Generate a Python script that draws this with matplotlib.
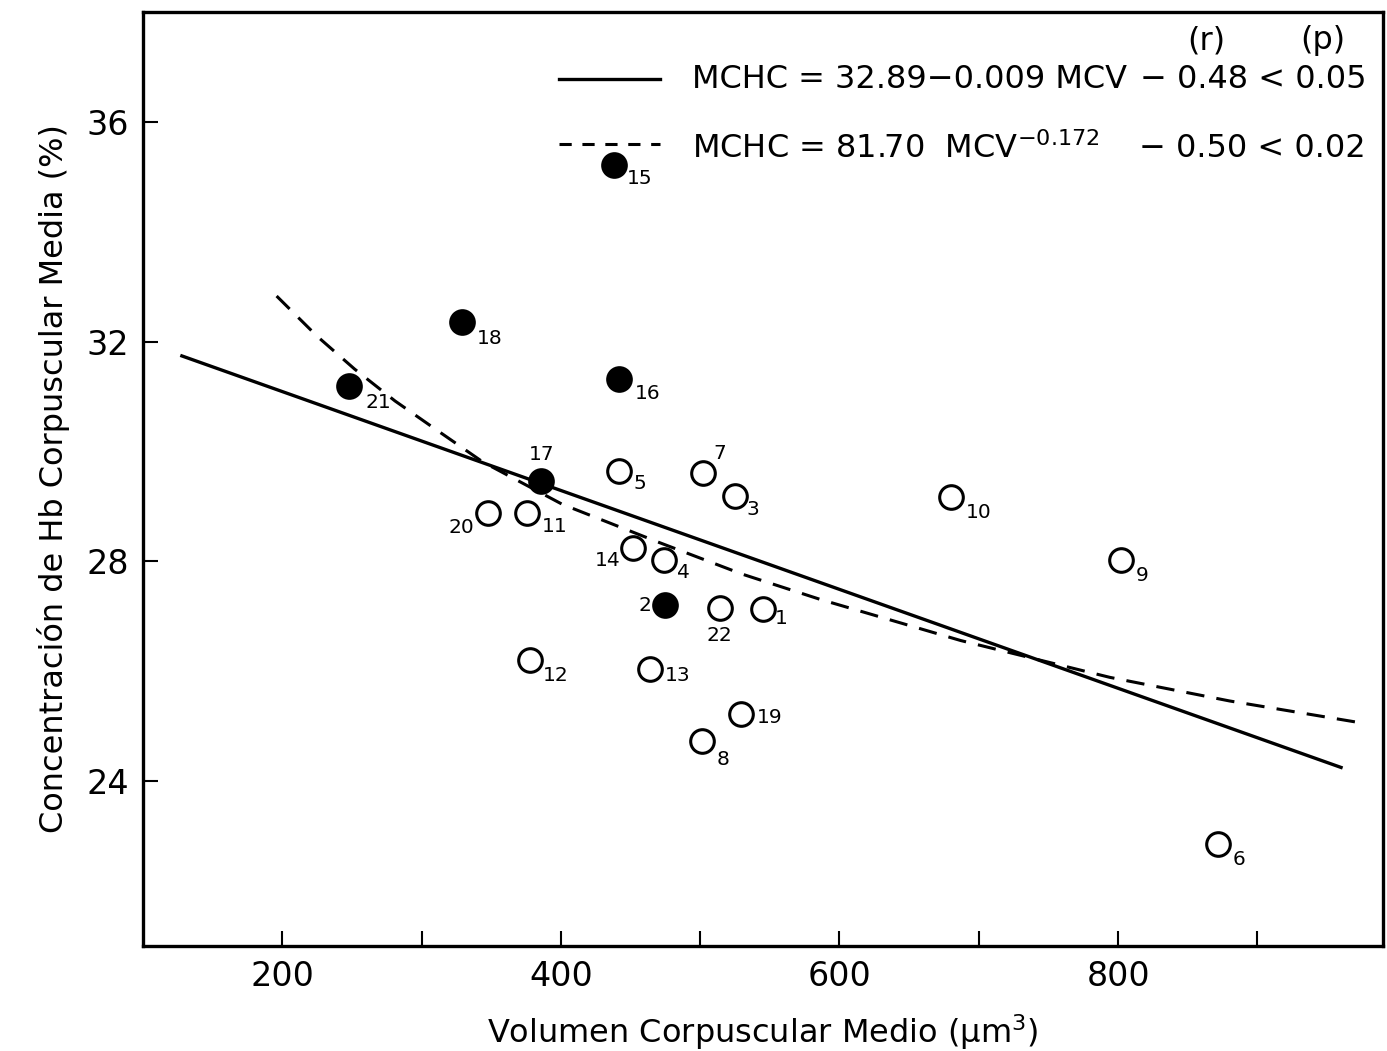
import matplotlib
matplotlib.use("Agg")
import matplotlib.pyplot as plt

# --------------------------------------------------------------------------
# Data
# --------------------------------------------------------------------------
point_ids = [1, 2, 3, 4, 5, 6, 7, 8, 9, 10, 11,
             12, 13, 14, 15, 16, 17, 18, 19, 20, 21, 22]
mcv = [545, 475, 525, 474, 442, 872, 502, 501, 802, 680, 376,
       378, 464, 452, 438, 442, 386, 329, 529, 348, 248, 514]
mchc = [27.13, 27.20, 29.19, 28.02, 29.64, 22.85, 29.61, 24.74, 28.02, 29.17, 28.88,
        26.20, 26.04, 28.24, 35.22, 31.32, 29.46, 32.36, 25.23, 28.88, 31.19, 27.15]
filled_ids = [2, 15, 16, 17, 18, 21]

# linear fit, end points as drawn
lin_x = [128, 960]
lin_y = [31.74, 24.25]

# power fit, points
pow_x = [196, 225, 252, 281, 307, 344, 401, 470, 530, 586, 687, 794, 880, 977]
pow_y = [32.83, 32.10, 31.50, 30.92, 30.46, 29.81, 29.04, 28.35, 27.77, 27.31,
         26.56, 25.89, 25.46, 25.05]

x_ticks = [200, 300, 400, 500, 600, 700, 800, 900]
x_tick_labels = ["200", "", "400", "", "600", "", "800", ""]
y_ticks = [24, 28, 32, 36]

# label offsets in pixels (dx right, dy down)
label_offsets = {
    1: (18, 9), 2: (-20, 0), 3: (18, 13), 4: (20, 12), 5: (21, 12), 6: (21, 15),
    7: (17, -19), 8: (22, 19), 9: (21, 15), 10: (28, 15), 11: (27, 13),
    12: (26, 15), 13: (28, 6), 14: (-26, 12), 15: (26, 14), 16: (28, 15),
    17: (0, -27), 18: (28, 17), 19: (29, 4), 20: (-27, 14), 21: (29, 16), 22: (0, 27),
}

plt.rcParams["font.family"] = "DejaVu Sans"
plt.rcParams["mathtext.fontset"] = "dejavusans"

fig = plt.figure(figsize=(13.87, 10.51), dpi=100)
ax = fig.add_axes([0.103, 0.0999, 0.894, 0.8887])

ax.plot(lin_x, lin_y, color="black", lw=2.4, zorder=2)
ax.plot(pow_x, pow_y, color="black", lw=2.2, dashes=(6, 4), zorder=2)

for pid, x, y in zip(point_ids, mcv, mchc):
    face = "black" if pid in filled_ids else "white"
    ax.plot(x, y, "o", ms=17, mfc=face, mec="black", mew=2.2, zorder=3)
    dx, dy = label_offsets[pid]
    ax.annotate(str(pid), (x, y), xytext=(dx, -dy), textcoords="offset pixels",
                ha="center", va="center", fontsize=14.5, zorder=4)

# legend drawn by hand, like the original
ax.plot([399, 471], [36.78, 36.78], color="black", lw=2.4)
ax.plot([399, 471], [35.60, 35.60], color="black", lw=2.2, dashes=(4, 3.5))
ax.text(863, 37.48, "(r)", ha="center", va="center", fontsize=23)
ax.text(947, 37.48, "(p)", ha="center", va="center", fontsize=23)
ax.text(494, 36.78, "MCHC = 32.89−0.009 MCV", ha="left", va="center", fontsize=23)
ax.text(978, 36.78, "− 0.48 < 0.05", ha="right", va="center", fontsize=23)
ax.text(494, 35.52, r"MCHC = 81.70  MCV$^{-0.172}$", ha="left", va="center", fontsize=23)
ax.text(978, 35.52, "− 0.50 < 0.02", ha="right", va="center", fontsize=23)

ax.set_xlim(100, 990)
ax.set_ylim(21, 38)
ax.set_xticks(x_ticks)
ax.set_xticklabels(x_tick_labels)
ax.set_yticks(y_ticks)
ax.tick_params(direction="in", length=11, width=1.5, labelsize=24, pad=10)
for sp in ax.spines.values():
    sp.set_linewidth(2.4)

ax.set_xlabel("Volumen Corpuscular Medio (µm$^3$)", fontsize=23, labelpad=14)
ax.set_ylabel("Concentración de Hb Corpuscular Media (%)", fontsize=23, labelpad=12)

fig.savefig("out.png", dpi=100)
